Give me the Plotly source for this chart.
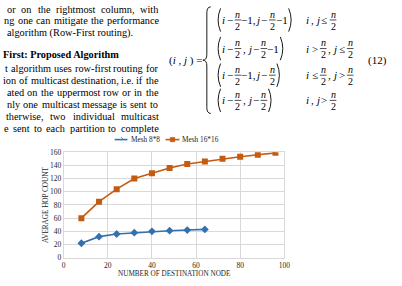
import plotly.graph_objects as go

W, H = 402, 286

# ---------------- chart data ----------------
series_names = ["Mesh 8*8", "Mesh 16*16"]
mesh8_x = [8, 16, 24, 32, 40, 48, 56, 64]
mesh8_y = [22, 32, 36, 38, 40, 41, 42, 43]
mesh16_x = [8, 16, 24, 32, 40, 48, 56, 64, 72, 80, 88, 96]
mesh16_y = [60, 85, 104, 120, 128, 136, 142, 146, 150, 153, 156, 159]
x_ticks = [0, 20, 40, 60, 80, 100]
y_ticks = [0, 20, 40, 60, 80, 100, 120, 140, 160]
x_title = "NUMBER OF DESTINATION NODE"
y_title = "AVERAGE HOP COUNT"

# ---------------- page text ----------------
body_lines = [
    "or on the rightmost column, with",
    "ng one can mitigate the performance",
    "algorithm (Row-First routing).",
    "t algorithm uses row-first routing for",
    "ion of multicast destination, i.e. if the",
    "ated on the uppermost row or in the",
    "nly one multicast message is sent to",
    "therwise, two individual multicast",
    "e sent to each partition to complete",
]
heading = "First: Proposed Algorithm"
eq_label = "(<i>i</i> , <i>j</i> ) ="
eq_number = "(12)"
eq_rows = [
    (["(", "i", "−", "F", "−1,", "j", "−", "F", "−1", ")"], ["i", ",", "j", "≤", "F"]),
    (["(", "i", "−", "F", ",", "j", "−", "F", "−1", ")"], ["i", ">", "F", ",", "j", "≤", "F"]),
    (["(", "i", "−", "F", "−1,", "j", "−", "F", ")"], ["i", "≤", "F", ",", "j", ">", "F"]),
    (["(", "i", "−", "F", ",", "j", "−", "F", ")"], ["i", ",", "j", ">", "F"]),
]

BLUE = "#3470AC"
ORANGE = "#C55A11"
GRID = "#D9D9D9"
SERIF = "Liberation Serif, Times New Roman, serif"


def X(p):
    return p / W


def Y(p):
    return 1 - p / H


annotations = []
shapes = []


def ann(x, y, text, size, xanchor="left", color="black", angle=0):
    annotations.append(dict(
        x=X(x), y=Y(y), xref="paper", yref="paper", text=text,
        showarrow=False, xanchor=xanchor, yanchor="middle",
        font=dict(family=SERIF, size=size, color=color),
        textangle=angle, borderpad=0,
    ))


def line(x0, y0, x1, y1, color="black", width=1):
    shapes.append(dict(type="line", xref="paper", yref="paper",
                       x0=X(x0), y0=Y(y0), x1=X(x1), y1=Y(y1),
                       line=dict(color=color, width=width)))


def path(points_cmds, color="black", width=1, fill=None):
    s = ""
    for cmd, pts in points_cmds:
        s += cmd + " " + " ".join(f"{X(a):.5f},{Y(b):.5f}" for a, b in pts) + " "
    d = dict(type="path", xref="paper", yref="paper", path=s.strip() + (" Z" if fill else ""),
             line=dict(color=color, width=width))
    if fill:
        d["fillcolor"] = fill
    shapes.append(d)


# ---------- Times metrics for justification ----------
REG = dict(a=444, b=500, c=444, d=500, e=444, f=333, g=500, h=500, i=278, j=278, k=500,
           l=278, m=778, n=500, o=500, p=500, q=500, r=333, s=389, t=278, u=500, v=500,
           w=722, x=500, y=500, z=444)
REG.update({".": 250, ",": 250, "-": 333, "(": 333, ")": 333, ":": 278, " ": 250,
            "R": 667, "F": 556})


def tw(s, size):
    return sum(REG.get(c, 500) for c in s) / 1000.0 * size


FS = 10.3


def place_line(text, x0, x1, y, justify=True):
    words = text.split()
    if not justify or len(words) < 2:
        ann(x0, y, text, FS)
        return
    widths = [tw(w, FS) for w in words]
    gap = (x1 - x0 - sum(widths)) / (len(words) - 1)
    cur = x0
    for w, wd in zip(words, widths):
        ann(cur, y, w, FS)
        cur += wd + gap


line_y = [5.5, 17.5, 29.5, 67, 79.5, 91.5, 104, 116, 128.5]
line_x0 = [4, 1, 4, 2, 0, 4, 4, 3, 1]
line_just = [True, True, False, True, True, True, True, True, True]
for t, yy, xx, j in zip(body_lines, line_y, line_x0, line_just):
    place_line(t, xx, 158, yy, j)
ann(0, 52.5, "<b>" + heading + "</b>", FS)

# ---------- equation ----------
EQ = 11
ann(205, 58, eq_label, EQ, xanchor="right")
ann(372, 58, eq_number, EQ)
# big brace
path([("M", [(213, 3)]), ("Q", [(209, 3), (209, 9)]), ("L", [(209, 52)]),
      ("Q", [(209, 58), (205, 58)]), ("Q", [(209, 58), (209, 64)]), ("L", [(209, 107)]),
      ("Q", [(209, 113), (213, 113)])], width=0.9)

TOKW = {"(": 6, ")": 6, "i": 4, "j": 4, "−": 9, "F": 7.5, "−1,": 14.5, "−1": 12,
        ",": 6, "≤": 10, ">": 10}
row_y = [16.5, 46, 73.5, 99.5]


def draw_tokens(tokens, x, cy):
    for tk in tokens:
        w = TOKW[tk]
        cx = x + w / 2
        if tk == "(":
            path([("M", [(cx + 2, cy - 12)]), ("Q", [(cx - 3, cy), (cx + 2, cy + 12)])], width=0.9)
        elif tk == ")":
            path([("M", [(cx - 2, cy - 12)]), ("Q", [(cx + 3, cy), (cx - 2, cy + 12)])], width=0.9)
        elif tk in ("i", "j"):
            ann(cx, cy, "<i>" + tk + "</i>", EQ, xanchor="center")
        elif tk == "F":
            ann(cx, cy - 6, "<i>n</i>", 10, xanchor="center")
            ann(cx, cy + 6.5, "2", 10, xanchor="center")
            line(cx - 3.4, cy, cx + 3.4, cy, width=0.7)
        else:
            ann(cx, cy, tk, EQ, xanchor="center")
        x += w


for (expr, cond), cy in zip(eq_rows, row_y):
    draw_tokens(expr, 218, cy)
    draw_tokens(cond, 310, cy)

# ---------- chart ----------
fig = go.Figure()
fig.add_trace(go.Scatter(x=mesh8_x, y=mesh8_y, mode="lines+markers", name=series_names[0],
                         line=dict(color=BLUE, width=1.6),
                         marker=dict(symbol="diamond", size=6, color=BLUE)))
fig.add_trace(go.Scatter(x=mesh16_x, y=mesh16_y, mode="lines+markers", name=series_names[1],
                         line=dict(color=ORANGE, width=1.6),
                         marker=dict(symbol="square", size=6, color=ORANGE)))

# axis titles
ann(175.5, 279, x_title, 7.2, xanchor="center", color="#262626")
ann(45, 207.5, y_title, 7.2, xanchor="center", color="#262626", angle=-90)

# manual legend
LY = 140
line(115, LY, 128, LY, color=BLUE, width=1.6)
path([("M", [(121.5, LY - 2.6)]), ("L", [(124.1, LY), (121.5, LY + 2.6), (118.9, LY)])],
     color=BLUE, width=0.5, fill=BLUE)
ann(131, LY, series_names[0], 7.3, color="#262626")
line(167, LY, 181, LY, color=ORANGE, width=1.6)
shapes.append(dict(type="rect", xref="paper", yref="paper", x0=X(171.7), x1=X(176.3),
                   y0=Y(LY + 2.3), y1=Y(LY - 2.3), line=dict(color=ORANGE, width=0.5),
                   fillcolor=ORANGE))
ann(183, LY, series_names[1], 7.3, color="#262626")

axis_common = dict(showgrid=True, gridcolor=GRID, gridwidth=1, zeroline=True,
                   zerolinecolor=GRID, zerolinewidth=1, showline=True, linecolor=GRID,
                   linewidth=1, mirror=True, ticks="",
                   tickfont=dict(family=SERIF, size=7.5, color="#262626"))
fig.update_layout(
    width=W, height=H, margin=dict(l=0, r=0, t=0, b=0),
    paper_bgcolor="white", plot_bgcolor="white", showlegend=False,
    xaxis=dict(domain=[X(63), X(288)], range=[0, 100], tickvals=x_ticks, **axis_common),
    yaxis=dict(domain=[Y(262), Y(153)], range=[0, 160], tickvals=y_ticks, **axis_common),
    annotations=annotations, shapes=shapes,
)
fig.write_html("out.html")
